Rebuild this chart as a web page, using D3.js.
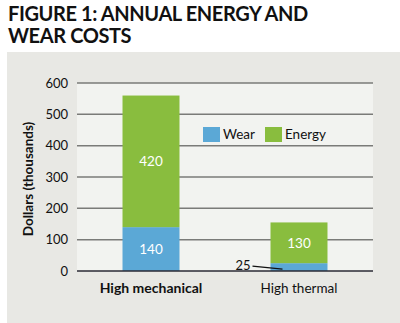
<!DOCTYPE html>
<html><head><meta charset="utf-8">
<script src="https://cdn.jsdelivr.net/npm/d3@7"></script>
<style>
html,body{margin:0;padding:0;background:#fff;}
svg{display:block;font-family:Lato,"Open Sans",sans-serif;}
</style></head>
<body><svg id="c" width="400" height="323"></svg>
<script>
const titleLines = ["FIGURE 1: ANNUAL ENERGY AND", "WEAR COSTS"];
const categories = ["High mechanical", "High thermal"];
const seriesNames = ["Wear", "Energy"];
const wear = [140, 25];
const energy = [420, 130];
const yTicks = [0, 100, 200, 300, 400, 500, 600];
const yLabel = "Dollars (thousands)";
const colors = {Wear: "#5ba8d6", Energy: "#89bd3e"};

const svg = d3.select("#c");
svg.append("rect").attr("x",0).attr("y",0).attr("width",400).attr("height",323).attr("fill","#fff");

// title
svg.selectAll("text.title").data(titleLines).enter().append("text")
  .attr("x", 8).attr("y", (d,i)=>21 + i*22)
  .attr("font-size", 20).attr("font-weight", 700).attr("fill","#111")
  .style("letter-spacing","-0.4px")
  .text(d=>d);

// panel
svg.append("rect").attr("x",7).attr("y",52).attr("width",393).attr("height",271).attr("fill","#e8e8e4");

const m = {l:77, r:373, t:83, b:271};
const x = d3.scaleBand().domain(categories).range([m.l, m.r]).paddingInner(0.615).paddingOuter(0.3075);
const y = d3.scaleLinear().domain([0,600]).range([m.b, m.t]);

svg.append("rect").attr("x",m.l).attr("y",m.t).attr("width",m.r-m.l).attr("height",m.b-m.t).attr("fill","#f2f3f0");

// grid
svg.append("g").selectAll("line").data(yTicks.filter(d=>d>0)).enter().append("line")
  .attr("x1",m.l).attr("x2",m.r).attr("y1",d=>y(d)).attr("y2",d=>y(d))
  .attr("stroke","#7a7b78").attr("stroke-width",1.5);

// y axis labels
const yAxis = d3.axisLeft(y).tickValues(yTicks).tickSize(0).tickPadding(9);
const ga = svg.append("g").attr("transform",`translate(${m.l},0)`).call(yAxis);
ga.select(".domain").remove();
ga.selectAll("text").attr("font-size",13).attr("fill","#111").attr("font-family","Lato, sans-serif");

svg.append("text").attr("transform",`translate(33,${(m.t+m.b)/2+2}) rotate(-90)`)
  .attr("text-anchor","middle").attr("font-size",13.5).attr("font-weight",700).attr("fill","#111")
  .text(yLabel);

// stacks
const rows = categories.map((c,i)=>({cat:c, Wear:wear[i], Energy:energy[i]}));
const stack = d3.stack().keys(seriesNames)(rows);
const gb = svg.append("g");
stack.forEach(s=>{
  gb.selectAll(null).data(s).enter().append("rect")
    .attr("x",d=>x(d.data.cat)).attr("width",x.bandwidth())
    .attr("y",d=>y(d[1])).attr("height",d=>y(d[0])-y(d[1]))
    .attr("fill",colors[s.key]);
});

// zero line
svg.append("line").attr("x1",m.l).attr("x2",m.r).attr("y1",y(0)).attr("y2",y(0))
  .attr("stroke","#2a2a35").attr("stroke-width",1.5);

// value labels
const cx = c => x(c)+x.bandwidth()/2;
svg.append("text").attr("x",cx(categories[0])).attr("y",y(wear[0]+energy[0]/2)+5)
  .attr("text-anchor","middle").attr("font-size",13.5).attr("fill","#fff").text(energy[0]);
svg.append("text").attr("x",cx(categories[0])).attr("y",y(wear[0]/2)+5)
  .attr("text-anchor","middle").attr("font-size",13.5).attr("fill","#fff").text(wear[0]);
svg.append("text").attr("x",cx(categories[1])).attr("y",y(wear[1]+energy[1]/2)+5)
  .attr("text-anchor","middle").attr("font-size",13.5).attr("fill","#fff").text(energy[1]);
// 25 callout
svg.append("text").attr("x",x(categories[1])-20).attr("y",y(wear[1]/2)+3)
  .attr("text-anchor","end").attr("font-size",13).attr("fill","#111").text(wear[1]);
svg.append("line").attr("x1",x(categories[1])-18).attr("y1",y(wear[1]/2)-1)
  .attr("x2",x(categories[1])+12).attr("y2",y(wear[1]/2)+2)
  .attr("stroke","#111").attr("stroke-width",1.2);

// x labels
svg.selectAll("text.xl").data(categories).enter().append("text")
  .attr("x",d=>cx(d)).attr("y",293).attr("text-anchor","middle")
  .attr("font-size",(d,i)=>i===0?14:13.5)
  .attr("font-weight",(d,i)=>i===0?700:400).attr("fill","#111").text(d=>d);

// legend
const lg = svg.append("g");
const lx = [203, 265];
seriesNames.forEach((s,i)=>{
  lg.append("rect").attr("x",lx[i]).attr("y",127).attr("width",17).attr("height",15).attr("fill",colors[s]);
  lg.append("text").attr("x",lx[i]+20).attr("y",139).attr("font-size",13.5).attr("fill","#111").text(s);
});
</script></body></html>
